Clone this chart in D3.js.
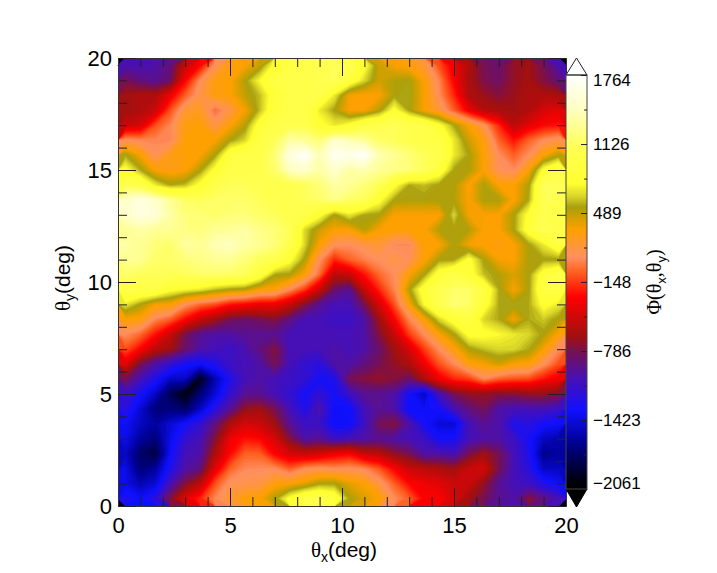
<!DOCTYPE html>
<html>
<head>
<meta charset="utf-8">
<script src="https://cdnjs.cloudflare.com/ajax/libs/d3/7.8.5/d3.min.js"></script>
<style>
  html, body { margin: 0; padding: 0; background: #fff; }
  svg { display: block; }
  text { font-family: "Liberation Sans", sans-serif; fill: #000; }
  .greek { font-family: "Liberation Serif", serif; }
</style>
</head>
<body>
<div id="chart"></div>
<script>
// Tick values and labels
var majorTicks = [0, 5, 10, 15, 20];
var minorTicks = [1, 2, 3, 4, 6, 7, 8, 9, 11, 12, 13, 14, 16, 17, 18, 19];
var barTicks = [1764, 1126, 489, -148, -786, -1423, -2061];
var barMinorTicks = [1445, 807, 170, -467, -1105, -1742];

// Colour stops
var colorValues = [-2061, -1978, -1636, -1332, -1026, -823, -657, -287, -56, 82, 332, 470, 544, 640, 760, 1071, 1440, 1764];
var colorHexes = ["#000000", "#000010", "#000090", "#1010ff", "#4a10b0", "#701060", "#a01010", "#ff0000", "#ff6020", "#ff9060", "#ffa000", "#c8a000", "#a8a010", "#d8d428", "#ffff30", "#ffff50", "#ffffc0", "#ffffff"];

// Phi values, top row (theta_y = 20) first, left column (theta_x = 0) first
var phiRows = [
  [-1030,-1030,-1000,-900,-500,-280,100,300,340,480,800,950,1000,1050,1100,1050,800,450,350,300,200,-100,-350,-600,-800,-850,-700,-650,-800,-1020],
  [-800,-900,-950,-850,-300,80,300,320,520,750,950,1000,1000,1050,1100,900,650,450,520,540,330,50,-300,-620,-780,-830,-700,-640,-760,-880],
  [-650,-600,-600,-350,-60,150,300,320,480,600,850,1000,1000,1000,700,350,320,340,530,560,350,80,-200,-600,-680,-750,-680,-600,-600,-620],
  [-650,-600,-500,-100,200,250,-20,150,350,600,900,1000,1000,700,540,330,340,500,800,540,340,200,-60,-350,-580,-620,-650,-600,-450,-400],
  [-500,-450,-100,50,300,320,150,320,500,850,1000,1050,1050,800,700,800,1000,1050,1100,1050,1000,800,550,330,120,-200,-550,-400,-280,-250],
  [100,60,50,50,320,330,340,530,650,950,1100,1350,1300,1200,1500,1400,1300,1150,1100,1050,1000,950,700,450,300,-50,-250,-50,80,150],
  [550,340,100,280,320,330,530,900,1000,1000,1200,1600,1750,1400,1700,1650,1750,1400,1300,1200,1100,1050,700,540,320,80,-60,80,330,500],
  [800,560,330,280,320,520,800,1000,1000,1050,1150,1450,1500,1350,1500,1350,1400,1300,1250,1200,1100,900,540,530,330,100,70,330,800,1000],
  [1050,1000,700,550,600,800,1000,1100,1100,1050,1050,1050,1100,1200,1350,1300,1200,1100,800,560,600,530,530,320,530,330,330,520,1100,1100],
  [1500,1600,1500,1300,1150,1100,1150,1150,1150,1100,1050,1050,1100,1150,1250,1150,1100,800,540,530,530,540,520,330,530,540,320,560,1100,1050],
  [1500,1600,1550,1350,1200,1200,1150,1200,1200,1150,1100,1050,1000,800,530,700,550,530,340,340,340,330,650,350,340,330,530,800,1050,1000],
  [1300,1350,1300,1300,1250,1200,1300,1300,1350,1250,1200,1100,650,450,340,330,500,340,330,320,330,520,530,520,320,330,530,850,1100,1000],
  [1350,1300,1200,1150,1350,1300,1400,1450,1350,1300,1200,1050,650,330,100,80,150,200,60,60,330,330,530,350,320,300,330,530,700,950],
  [1300,1300,1150,1150,1200,1250,1300,1300,1200,1100,1050,800,530,100,-200,-50,30,100,150,100,320,530,540,800,530,340,330,530,540,530],
  [1150,1100,1100,1100,1100,1150,1150,1150,1100,900,550,530,330,-30,-550,-500,-250,-30,80,330,530,850,1000,850,600,520,420,530,850,1000],
  [1000,1000,1000,800,750,700,600,530,500,340,300,80,-150,-500,-850,-950,-500,-200,50,520,850,1050,1150,1150,950,560,340,530,950,950],
  [700,530,350,340,100,-30,-100,-250,-300,-350,-350,-500,-750,-950,-1050,-1050,-800,-450,-100,330,750,1050,1200,1150,850,560,550,560,800,700],
  [330,300,50,-60,-280,-500,-650,-800,-850,-800,-750,-900,-1050,-1050,-1100,-1100,-1000,-650,-300,50,330,650,850,950,650,560,350,560,620,520],
  [80,-30,-250,-500,-800,-950,-1000,-1000,-950,-950,-950,-1050,-1050,-1050,-1050,-1050,-1000,-750,-500,-150,80,330,530,800,800,750,700,650,530,320],
  [-100,-300,-550,-650,-850,-1000,-1050,-1100,-1030,-900,-750,-1050,-1050,-1050,-1000,-1050,-1000,-850,-650,-450,-150,80,300,520,600,650,650,560,350,80],
  [-400,-800,-1000,-1150,-1300,-1350,-1250,-1100,-1050,-1000,-800,-1050,-1150,-1200,-1000,-1000,-900,-800,-700,-600,-350,-100,60,300,350,450,330,320,100,-100],
  [-800,-1050,-1250,-1500,-1500,-1950,-1550,-1250,-1050,-1000,-1050,-1100,-1150,-1300,-1250,-800,-750,-700,-750,-850,-600,-350,-200,-150,60,-60,-100,-120,-250,-350],
  [-1100,-1300,-1500,-1800,-2000,-1700,-1450,-1150,-950,-950,-1050,-1150,-1300,-1150,-1300,-1100,-950,-950,-1000,-1300,-1500,-1050,-800,-700,-700,-750,-750,-700,-700,-750],
  [-1200,-1450,-1700,-1700,-1750,-1500,-1200,-950,-700,-650,-800,-1050,-1250,-1000,-1350,-1350,-1050,-950,-1000,-1350,-1350,-1300,-1050,-900,-800,-1000,-1050,-1050,-1050,-1100],
  [-1350,-1500,-1600,-1450,-1300,-1150,-900,-600,-450,-500,-650,-950,-1100,-1100,-1350,-1350,-1100,-800,-750,-1000,-1300,-1450,-1450,-1050,-950,-1000,-1250,-1200,-1300,-1350],
  [-1400,-1600,-1700,-1400,-1150,-1050,-750,-350,-250,-280,-450,-750,-1000,-950,-1100,-1050,-1000,-950,-1000,-1050,-1100,-1300,-1300,-1050,-1000,-1000,-1100,-1300,-1500,-1550],
  [-1500,-1750,-1850,-1350,-1050,-1000,-600,-280,-50,-60,-300,-450,-500,-450,-350,-300,-500,-550,-700,-800,-1000,-1000,-1050,-800,-650,-800,-1050,-1250,-1650,-1600],
  [-1400,-1700,-1600,-1250,-1000,-900,-400,-50,60,70,80,-60,80,120,80,100,60,-80,-300,-500,-550,-600,-650,-500,-450,-800,-1050,-1200,-1500,-1500],
  [-1400,-1550,-1450,-1050,-750,-550,-100,120,130,150,300,330,400,530,540,400,330,150,-60,-280,-350,-400,-500,-500,-700,-950,-1050,-1100,-1250,-1350],
  [-1250,-1350,-1200,-750,-400,-200,60,200,320,340,520,800,1000,1050,900,540,420,340,80,-60,-300,-300,-450,-650,-800,-950,-1000,-750,-900,-1050]
];

var W = 717, H = 573;
var margin = { top: 58, left: 118 }, size = 448;
var nCols = phiRows[0].length, nRows = phiRows.length;

var svg = d3.select("#chart").append("svg")
    .attr("width", W)
    .attr("height", H);

var color = d3.scaleLinear().domain(colorValues).range(colorHexes).clamp(true);

var x = d3.scaleLinear().domain([0, 20]).range([margin.left, margin.left + size]);
var y = d3.scaleLinear().domain([0, 20]).range([margin.top + size, margin.top]);

// Grid index to pixel, for the contour paths
var gx = d3.scaleLinear().domain([0, nCols]).range(x.range());
var gy = d3.scaleLinear().domain([0, nRows]).range([margin.top, margin.top + size]);
var project = d3.geoTransform({
    point: function (px, py) { this.stream.point(gx(px), gy(py)); }
});
var path = d3.geoPath(project);

// Heat map as many stacked filled contour bands
var levels = d3.range(-2061, 1764, 25);
var contours = d3.contours()
    .size([nCols, nRows])
    .smooth(true)
    .thresholds(levels)(phiRows.flat());

svg.append("rect")
    .attr("x", margin.left).attr("y", margin.top)
    .attr("width", size).attr("height", size)
    .attr("fill", color(-2061));

svg.append("g").selectAll("path")
    .data(contours)
    .enter()
    .append("path")
    .attr("d", path)
    .attr("fill", function (d) { return color(d.value + 12.5); });

// Axes: long and short ticks inside the frame on all four sides
function styleAxis(g) {
    g.selectAll(".domain").attr("stroke", "#333").attr("stroke-width", 1);
    g.selectAll(".tick line").attr("stroke", "#222").attr("stroke-width", 1);
    g.selectAll("text").attr("font-family", "Liberation Sans").attr("font-size", 22).attr("fill", "#000");
}

function addAxis(maker, scale, tx, ty, labelled) {
    var major = maker(scale).tickValues(majorTicks).tickSizeInner(-18).tickSizeOuter(0)
        .tickPadding(labelled ? 24 : 0);
    var minor = maker(scale).tickValues(minorTicks).tickSizeInner(-9).tickSizeOuter(0)
        .tickFormat("");
    var g = svg.append("g").attr("transform", "translate(" + tx + "," + ty + ")");
    g.append("g").call(minor).call(styleAxis);
    var mg = g.append("g").call(major).call(styleAxis);
    if (!labelled) mg.selectAll("text").remove();
    return mg;
}

var bottom = addAxis(d3.axisBottom, x, 0, margin.top + size, true);
bottom.selectAll("text").attr("dy", "0").attr("y", 27);
addAxis(d3.axisTop, x, 0, margin.top, false);
var left = addAxis(d3.axisLeft, y, margin.left, 0, true);
left.selectAll("text").attr("x", -6);
addAxis(d3.axisRight, y, margin.left + size, 0, false);

// Axis titles
function greekLabel(sel, head, sub, tail) {
    sel.append("tspan").attr("class", "greek").text(head);
    sel.append("tspan").attr("dy", 5).attr("font-size", 14).text(sub);
    sel.append("tspan").attr("dy", -5).text(tail);
}

var xTitle = svg.append("text")
    .attr("x", 344).attr("y", 557)
    .attr("text-anchor", "middle")
    .attr("font-size", 21);
greekLabel(xTitle, "\u03b8", "x", "(deg)");

var yTitle = svg.append("text")
    .attr("transform", "translate(70,278) rotate(-90)")
    .attr("text-anchor", "middle")
    .attr("font-size", 21);
greekLabel(yTitle, "\u03b8", "y", "(deg)");

// Colour bar
var barLeft = 566, barRight = 587, barTop = 75, barBottom = 489;
var barY = d3.scaleLinear().domain([-2061, 1764]).range([barBottom, barTop]);
var barSteps = d3.range(barTop, barBottom);

svg.append("g").selectAll("rect")
    .data(barSteps)
    .enter()
    .append("rect")
    .attr("x", barLeft)
    .attr("y", function (d) { return d; })
    .attr("width", barRight - barLeft)
    .attr("height", 1.2)
    .attr("fill", function (d) { return color(barY.invert(d + 0.5)); });

var barMid = (barLeft + barRight) / 2;
svg.append("path")
    .attr("d", d3.line()([[barLeft, barTop], [barMid, 58], [barRight, barTop]]) + "Z")
    .attr("fill", "#fff").attr("stroke", "#222").attr("stroke-width", 1);
svg.append("path")
    .attr("d", d3.line()([[barLeft, barBottom], [barMid, 507], [barRight, barBottom]]) + "Z")
    .attr("fill", "#000").attr("stroke", "#000").attr("stroke-width", 1);

svg.append("rect")
    .attr("x", barLeft).attr("y", barTop)
    .attr("width", barRight - barLeft).attr("height", barBottom - barTop)
    .attr("fill", "none").attr("stroke", "#444").attr("stroke-width", 1);

var barAxis = svg.append("g").attr("transform", "translate(" + barRight + ",0)");
barAxis.append("g")
    .call(d3.axisLeft(barY).tickValues(barMinorTicks).tickSizeInner(3).tickSizeOuter(0).tickFormat(""))
    .call(styleAxis);
barAxis.append("g")
    .call(d3.axisLeft(barY).tickValues(barTicks).tickSizeInner(6).tickSizeOuter(0).tickFormat(""))
    .call(styleAxis);
barAxis.selectAll(".domain").remove();

// Labels of the top and bottom ticks are pushed inside the bar's range
svg.append("g").selectAll("text")
    .data(barTicks)
    .enter()
    .append("text")
    .attr("x", 593)
    .attr("y", function (d) {
        var py = barY(d);
        if (d === 1764) py += 5;
        if (d === -2061) py -= 6;
        return py + 6;
    })
    .attr("font-size", 17)
    .text(function (d) { return d < 0 ? "\u2212" + Math.abs(d) : d; });

var barTitle = svg.append("text")
    .attr("transform", "translate(661,282) rotate(-90)")
    .attr("text-anchor", "middle")
    .attr("font-size", 20);
barTitle.append("tspan").attr("class", "greek").text("\u03a6(\u03b8");
barTitle.append("tspan").attr("dy", 5).attr("font-size", 13).text("x");
barTitle.append("tspan").attr("dy", -5).attr("class", "greek").text(",\u03b8");
barTitle.append("tspan").attr("dy", 5).attr("font-size", 13).text("y");
barTitle.append("tspan").attr("dy", -5).attr("class", "greek").text(")");
</script>
</body>
</html>
